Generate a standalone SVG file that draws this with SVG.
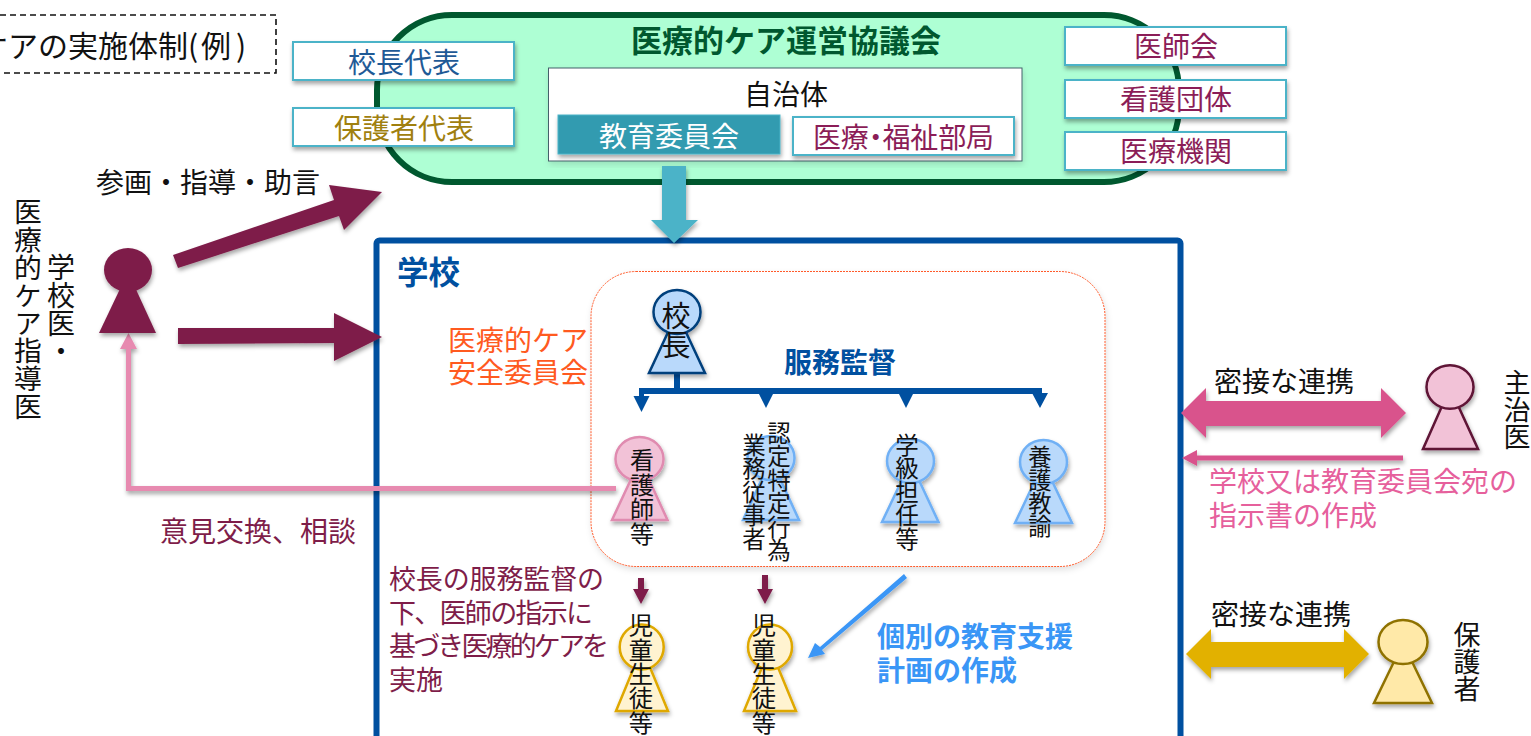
<svg xmlns="http://www.w3.org/2000/svg" width="1531" height="736" viewBox="0 0 1531 736">
<style>
text{font-family:"Noto Sans CJK JP","Noto Sans",sans-serif;font-size:28px;fill:#111}
.c{text-anchor:middle}
.b{font-weight:700}
.v{writing-mode:vertical-rl;text-orientation:upright}
.box{fill:#fff;stroke:#4bb3c8;stroke-width:2;filter:url(#s)}
.red{fill:#8b1d57}
.mar{fill:#7e1d49}
.sh{filter:url(#s)}
.blue{fill:#b9d9fb;stroke:#6fb0f5;stroke-width:2.5}
.yel{fill:#fff3d0;stroke:#dfa800;stroke-width:2.5}
.pk{fill:#f2c2d7;stroke:#e08bb0;stroke-width:2.5}
</style>
<defs>
<filter id="s" x="-20%" y="-20%" width="140%" height="150%"><feDropShadow dx="1" dy="3" stdDeviation="2" flood-color="#000" flood-opacity=".35"/></filter>
<filter id="f" x="-5%" y="-5%" width="110%" height="112%"><feDropShadow dx="1" dy="3" stdDeviation="3" flood-color="#000" flood-opacity=".12"/></filter>
</defs>
<g id="title">
<rect x="-20" y="15" width="296" height="58" fill="#fff" stroke="#111" stroke-width="1.6" stroke-dasharray="6 4"/>
<text y="57" style="font-size:30px"><tspan x="-22">ケアの実施体制</tspan><tspan x="188">(</tspan><tspan x="201">例</tspan><tspan x="236">)</tspan></text>
</g>
<g id="council">
<rect x="377" y="15" width="802" height="167" rx="75" ry="75" fill="#aeffd4" stroke="#00582f" stroke-width="6"/>
<text x="786" y="52" class="c b" style="font-size:31px;fill:#00582f">医療的ケア運営協議会</text>
</g>
<g id="school">
<rect x="376.500" y="240.500" width="804" height="520" rx="3" fill="#fff" stroke="#0050a0" stroke-width="6"/>
<text x="397" y="284" class="b" style="font-size:31.500px;fill:#0050a0">学校</text>
</g>
<g id="member-principal-rep"><rect x="293" y="42" width="221" height="38" class="box"/><text x="404" y="73" class="c" style="fill:#1f5a96">校長代表</text></g>
<g id="member-parent-rep"><rect x="293" y="108" width="221" height="38" class="box"/><text x="404" y="139" class="c" style="fill:#a0800f">保護者代表</text></g>
<g id="member-doctors"><rect x="1065" y="27" width="221" height="38" class="box"/><text x="1176" y="57" class="c red">医師会</text></g>
<g id="member-nurses"><rect x="1065" y="80" width="221" height="38" class="box"/><text x="1176" y="110" class="c red">看護団体</text></g>
<g id="member-medical"><rect x="1065" y="132" width="221" height="38" class="box"/><text x="1176" y="162" class="c red">医療機関</text></g>
<g id="municipality">
<rect x="548.500" y="68" width="473.500" height="93" fill="#fff" stroke="#44606a" stroke-width="1" filter="url(#f)"/>
<text x="786" y="105" class="c">自治体</text>
</g>
<g id="board"><rect x="558" y="115" width="222" height="39" fill="#329bb0" stroke="#4bb3c8" filter="url(#s)"/><text x="669" y="147" class="c" style="fill:#fff">教育委員会</text></g>
<g id="welfare"><rect x="793" y="117" width="221" height="38" class="box"/><text x="813" y="148" class="red" textLength="181" style="font-feature-settings:'palt'">医療・福祉部局</text></g>
<g id="safety-committee">
<rect x="591" y="271.500" width="514" height="295" rx="45" fill="#fff" stroke="#ff5a2a" stroke-width="1" stroke-dasharray="2 1" filter="url(#f)"/>
</g>
<g id="connectors">
<path d="M662 166h24v54h12l-24 23-23-23h11z" fill="#4bb3c8" class="sh"/>
<path d="M173 255L334 200 329 185 382 192 344 230 339 216 178 268z" fill="#7e1d49" class="sh"/>
<path d="M178 328H334V313L382 337 334 361V343L178 344z" fill="#7e1d49" class="sh"/>
<path d="M616 486V491H126V349H120L128.500 333 137 349H131V486z" fill="#e78ab0" class="sh"/>
<g fill="#0050a0">
<rect x="674" y="373" width="6" height="18"/>
<rect x="639" y="388" width="403" height="6"/>
<rect x="639" y="388" width="5" height="9"/>
<path d="M633.500 396h16l-8 16zM758 392h16l-8 16zM898 392h16l-8 16zM1032 393h16l-8 15z"/>
</g>
<path d="M638 578h6v11h5l-8 15-8-15h5zM762 575h6v14h5l-8 15-8-15h5z" fill="#7e1d49" class="sh"/>
<path d="M904 574l3 4-85 72 3 4-17 4 7-15 5 4z" fill="#3a96f6" class="sh"/>
<path d="M1181 413l25-25v13h175v-13l25 25-25 25v-12H1206v12z" fill="#d9538c" class="sh"/>
<path d="M1403 455.500v5H1197v5.500l-15-8 15-8v5.500z" fill="#d9538c" class="sh"/>
<path d="M1186 654l25-25v13h133v-13l25 25-25 25v-12H1211v12z" fill="#e2b100" class="sh"/>
</g>
<g id="school-doctor">
<g class="sh" fill="#7e1d49"><path d="M128 272L156 333H99z"/><ellipse cx="128" cy="270" rx="24" ry="22"/></g>
<text x="61" y="253" class="v">学校医・</text>
<text x="28" y="198" class="v" style="font-size:27.800px">医療的ケア指導医</text>
</g>
<g id="principal">
<g class="sh" fill="#b9d9fb" stroke="#003f7c" stroke-width="2.500"><path d="M677 313L705 373H649z"/><ellipse cx="677" cy="312" rx="23.500" ry="22"/></g>
<text x="676" y="301" class="v" style="font-size:29px">校長</text>
</g>
<g id="nurse">
<g class="sh pk"><path d="M640 460L667.500 520H612z"/><ellipse cx="639.500" cy="459" rx="24" ry="22"/></g>
<text x="642" y="448" class="v" style="font-size:24px;letter-spacing:.5px">看護師等</text>
</g>
<g id="care-worker">
<g class="sh blue"><path d="M771 459L799 520H743z"/><ellipse cx="771" cy="458" rx="23.500" ry="22"/></g>
<text x="779" y="421" class="v" style="font-size:23.500px">認定特定行為</text>
<text x="754" y="433" class="v" style="font-size:23.500px">業務従事者</text>
</g>
<g id="teacher">
<g class="sh blue"><path d="M910.500 462L938.500 522H882z"/><ellipse cx="910.500" cy="461" rx="23.500" ry="22"/></g>
<text x="907" y="433" class="v" style="font-size:23.500px">学級担任等</text>
</g>
<g id="yogo">
<g class="sh blue"><path d="M1043.500 463L1072 523H1015z"/><ellipse cx="1043.500" cy="462" rx="23.500" ry="22"/></g>
<text x="1040" y="445" class="v" style="font-size:23.300px">養護教諭</text>
</g>
<g id="student-1">
<g class="sh yel"><path d="M642 648L668 711H616z"/><ellipse cx="641.700" cy="647" rx="22" ry="22.500"/></g>
<text x="641" y="613" class="v" style="font-size:24.300px">児童生徒等</text>
</g>
<g id="student-2">
<g class="sh yel"><path d="M770 648L796 711H744z"/><ellipse cx="770" cy="647" rx="22" ry="22.500"/></g>
<text x="764" y="613" class="v" style="font-size:24.300px">児童生徒等</text>
</g>
<g id="attending-doctor">
<g class="sh" fill="#f2c2d7" stroke="#5e1236" stroke-width="2.500"><path d="M1450 388L1478 449H1423z"/><ellipse cx="1450" cy="387" rx="23.500" ry="21.700"/></g>
<text x="1517" y="369" class="v" style="font-size:27px">主治医</text>
</g>
<g id="guardian">
<g class="sh" fill="#ffe9a8" stroke="#8f7200" stroke-width="2.500"><path d="M1403 643L1432 703H1374z"/><ellipse cx="1403" cy="642" rx="24.500" ry="22"/></g>
<text x="1467" y="621" class="v" style="font-size:27px">保護者</text>
</g>
<g id="labels">
<text x="96" y="193">参画・指導・助言</text>
<text x="840" y="373" class="c b" style="fill:#0050a0">服務監督</text>
<text x="448" y="351" style="fill:#ff5a1f">医療的ケア</text>
<text x="448" y="383" style="fill:#ff5a1f">安全委員会</text>
<text x="160" y="542" class="mar">意見交換、相談</text>
<text x="389" y="589" class="mar" style="font-size:27px" textLength="215">校長の服務監督の</text>
<text x="389" y="623" class="mar" style="font-size:27px" textLength="204">下、医師の指示に</text>
<text x="389" y="656" class="mar" style="font-size:27px" textLength="220">基づき医療的ケアを</text>
<text x="389" y="690" class="mar" style="font-size:27px">実施</text>
<text x="877" y="647" class="b" style="fill:#3a96f6">個別の教育支援</text>
<text x="877" y="681" class="b" style="fill:#3a96f6">計画の作成</text>
<text x="1214" y="392">密接な連携</text>
<text x="1211" y="625">密接な連携</text>
<text x="1209" y="492" style="fill:#e6609c">学校又は教育委員会宛の</text>
<text x="1209" y="526" style="fill:#e6609c">指示書の作成</text>
</g>
</svg>
